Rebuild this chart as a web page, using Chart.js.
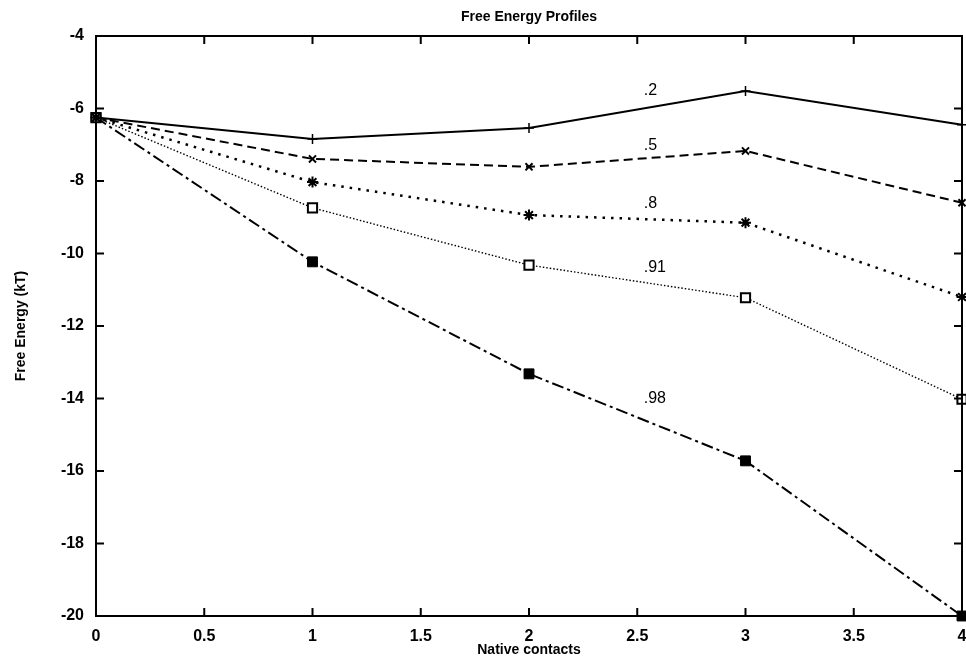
<!DOCTYPE html>
<html>
<head>
<meta charset="utf-8">
<title>Free Energy Profiles</title>
<script src="https://cdn.jsdelivr.net/npm/chart.js"></script>
<style>
  body { margin: 0; background: #fff; }
  canvas { display: block; }
</style>
</head>
<body>
<canvas id="myChart" width="966" height="662"></canvas>
<script>
// native contacts (x) and free energy (kT) for each stability value
const contacts = [0, 1, 2, 3, 4];
const fe02 = [-6.25, -6.84, -6.54, -5.52, -6.45];
const fe05 = [-6.25, -7.39, -7.61, -7.17, -8.6];
const fe08 = [-6.25, -8.03, -8.94, -9.15, -11.2];
const fe091 = [-6.25, -8.74, -10.32, -11.22, -14.02];
const fe098 = [-6.25, -10.23, -13.32, -15.72, -20.0];

const xTickLabels = ['0', '0.5', '1', '1.5', '2', '2.5', '3', '3.5', '4'];

// curve labels drawn inside the plot (data coordinates)
const curveNames = ['.2', '.5', '.8', '.91', '.98'];
const curveNameX = [2.53, 2.53, 2.53, 2.53, 2.53];
const curveNameY = [-5.5, -7.02, -8.62, -10.38, -14.0];

const toPoints = (ys) => contacts.map((x, i) => ({ x: x, y: ys[i] }));
const FONT = '"Liberation Sans", Arial, sans-serif';

// box round the plot with inward ticks on all four sides
const framePlugin = {
  id: 'frame',
  afterDraw(chart) {
    const ctx = chart.ctx;
    const area = chart.chartArea;
    const xs = chart.scales.x;
    const ys = chart.scales.y;
    ctx.save();
    ctx.strokeStyle = '#000';
    ctx.lineWidth = 2;
    ctx.strokeRect(area.left, area.top, area.right - area.left, area.bottom - area.top);
    ctx.beginPath();
    xs.ticks.forEach((t) => {
      const px = xs.getPixelForValue(t.value);
      ctx.moveTo(px, area.bottom);
      ctx.lineTo(px, area.bottom - 8);
      ctx.moveTo(px, area.top);
      ctx.lineTo(px, area.top + 8);
    });
    ys.ticks.forEach((t) => {
      const py = ys.getPixelForValue(t.value);
      ctx.moveTo(area.left, py);
      ctx.lineTo(area.left + 8, py);
      ctx.moveTo(area.right, py);
      ctx.lineTo(area.right - 8, py);
    });
    ctx.stroke();

    ctx.fillStyle = '#000';
    ctx.font = '16px ' + FONT;
    ctx.textAlign = 'left';
    ctx.textBaseline = 'middle';
    curveNames.forEach((name, i) => {
      ctx.fillText(name, xs.getPixelForValue(curveNameX[i]), ys.getPixelForValue(curveNameY[i]));
    });
    ctx.restore();
  },
};

const ctx = document.getElementById('myChart').getContext('2d');
new Chart(ctx, {
  type: 'line',
  data: {
    datasets: [
      {
        label: '.2',
        data: toPoints(fe02),
        borderColor: '#000',
        borderWidth: 2,
        pointStyle: 'cross',
        pointRadius: 5,
        pointBorderWidth: 1.5,
      },
      {
        label: '.5',
        data: toPoints(fe05),
        borderColor: '#000',
        borderWidth: 2,
        borderDash: [9, 5],
        pointStyle: 'crossRot',
        pointRadius: 5,
        pointBorderWidth: 2,
      },
      {
        label: '.8',
        data: toPoints(fe08),
        borderColor: '#000',
        borderWidth: 2.5,
        borderDash: [2.5, 6],
        pointStyle: 'star',
        pointRadius: 5.5,
        pointBorderWidth: 2,
      },
      {
        label: '.91',
        data: toPoints(fe091),
        borderColor: '#000',
        borderWidth: 1.4,
        borderDash: [1.5, 2],
        pointStyle: 'rect',
        pointRadius: 6.5,
        pointBorderWidth: 2,
        pointBackgroundColor: '#fff',
      },
      {
        label: '.98',
        data: toPoints(fe098),
        borderColor: '#000',
        borderWidth: 2,
        borderDash: [12, 4, 3, 4],
        pointStyle: 'rect',
        pointRadius: 7,
        pointBorderWidth: 1,
        pointBackgroundColor: '#000',
      },
    ],
  },
  options: {
    responsive: false,
    animation: false,
    clip: false,
    layout: { autoPadding: false, padding: { left: 0, right: 4, top: 0, bottom: 0 } },
    plugins: {
      legend: { display: false },
      tooltip: { enabled: false },
      title: {
        display: true,
        fullSize: false,
        text: 'Free Energy Profiles',
        color: '#000',
        font: { family: FONT, size: 14, weight: 'bold' },
        padding: { top: 9, bottom: 10.2 },
      },
    },
    scales: {
      x: {
        type: 'linear',
        min: 0,
        max: 4,
        ticks: {
          stepSize: 0.5,
          color: '#000',
          padding: 11,
          font: { family: FONT, size: 16, weight: 'bold' },
          callback: (value, index) => xTickLabels[index],
        },
        grid: { display: false, drawTicks: false, tickLength: 0 },
        border: { display: false },
        title: {
          display: true,
          text: 'Native contacts',
          color: '#000',
          font: { family: FONT, size: 14, weight: 'bold' },
          padding: { top: 0, bottom: 3 },
        },
        afterFit: (scale) => {
          scale.height = 46;
          scale.paddingLeft = 0;
          scale.paddingRight = 0;
        },
      },
      y: {
        min: -20,
        max: -4,
        ticks: {
          stepSize: 2,
          color: '#000',
          padding: 12,
          font: { family: FONT, size: 16, weight: 'bold' },
        },
        grid: { display: false, drawTicks: false, tickLength: 0 },
        border: { display: false },
        title: {
          display: true,
          text: 'Free Energy (kT)',
          color: '#000',
          font: { family: FONT, size: 14, weight: 'bold' },
          padding: { top: 12.6, bottom: 0 },
        },
        afterFit: (scale) => {
          scale.width = 96;
          scale.paddingTop = 0;
          scale.paddingBottom = 0;
        },
      },
    },
  },
  plugins: [framePlugin],
});
</script>
</body>
</html>
